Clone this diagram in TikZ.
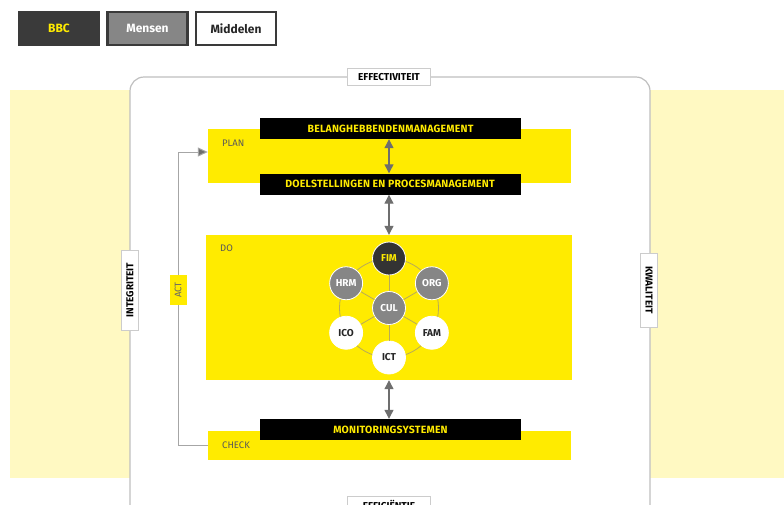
\documentclass[tikz,border=0pt]{standalone}
\usepackage{fontspec}
\setmainfont{Fira Sans}
\usetikzlibrary{arrows.meta, positioning, calc}

\definecolor{bbcyel}{HTML}{FFEB00}
\definecolor{paleyel}{HTML}{FFF9C2}
\definecolor{btndark}{HTML}{3A3A3A}
\definecolor{btngray}{HTML}{868686}
\definecolor{ringcol}{HTML}{B8AA58}
\definecolor{arrcol}{HTML}{6E6E6E}

\tikzset{
  btn/.style={draw=btndark, line width=2.5, minimum width=80, minimum height=33, inner sep=0, font=\fontsize{12}{12}\selectfont\bfseries},
  band/.style={fill=bbcyel, inner sep=0},
  blackbox/.style={fill=black, text=bbcyel, inner sep=0, minimum width=261, minimum height=21, font=\fontsize{10.5}{10.5}\selectfont\bfseries\addfontfeature{LetterSpace=2}},
  sidelbl/.style={draw=black!20, fill=white, line width=1, inner sep=0, minimum height=17, font=\fontsize{10}{10}\selectfont\bfseries},
  steplbl/.style={text=black!65, inner sep=0, anchor=west, font=\fontsize{9.5}{9.5}\selectfont},
  dbl/.style={arrcol, line width=1.2, {Triangle[width=9,length=9]}-{Triangle[width=9,length=9]}},
  hexnode/.style={circle, draw=white, line width=0.8, minimum size=33, inner sep=0, font=\fontsize{10}{10}\selectfont\bfseries},
  cdark/.style={hexnode, fill=black!80, text=bbcyel},
  cgray/.style={hexnode, fill=btngray, text=white},
  cwhite/.style={hexnode, fill=white, text=black!85},
}

\begin{document}
\begin{tikzpicture}[x=1pt, y=-1pt]

\useasboundingbox (0,0) rectangle (784,504);
\clip (0,0) rectangle (784,504);

% buttons
\node[btn, fill=btndark, text=bbcyel] (bbc) at (59,28.5) {BBC};
\node[btn, fill=btngray, text=white, right=6 of bbc] (mensen) {Mensen};
\node[btn, fill=white, text=black!85, right=6 of mensen] (middelen) {Middelen};

% background
\fill[paleyel] (10,90) rectangle (784,478);
\draw[black!25, fill=white, line width=1.2, rounded corners=14] (130,77) rectangle (650,530);

\node[sidelbl, minimum width=83] (eff) at (389,77) {EFFECTIVITEIT};
\node[sidelbl, minimum width=83] (effi) at (389,505) {EFFICIËNTIE};
\node[sidelbl, minimum width=80, rotate=90] (integ) at (130,290) {INTEGRITEIT};
\node[sidelbl, minimum width=74, rotate=-90] (kwal) at (649,290) {KWALITEIT};

% plan / do / check
\node[band, minimum width=363, minimum height=54] (plan) at (389.5,156) {};
\node[band, minimum width=366, minimum height=145] (do) at (389,307.5) {};
\node[band, minimum width=363, minimum height=29] (check) at (389.5,445.5) {};

\node[steplbl] (planlbl) at (222,143) {PLAN};
\node[steplbl] (dolbl) at (220,248) {DO};
\node[steplbl] (checklbl) at (222,445) {CHECK};

\node[blackbox] (belang) at (390.5,128.5) {BELANGHEBBENDENMANAGEMENT};
\node[blackbox] (doel) at (390,184) {DOELSTELLINGEN EN PROCESMANAGEMENT};
\node[blackbox] (monitor) at (390.5,429.5) {MONITORINGSYSTEMEN};

\draw[dbl] (belang.south -| 389,0) -- (doel.north -| 389,0);
\draw[dbl] (doel.south -| 389,0) -- (do.north -| 389,0);
\draw[dbl] (do.south -| 389,0) -- (monitor.north -| 389,0);

% act loop
\coordinate (actbot) at (178,445);
\draw[black!35, line width=1, -{Triangle[width=9,length=10,fill=arrcol]}] (check.west |- actbot) -- (actbot) |- ([yshift=4]plan.west);
\node[band, rotate=90, minimum width=30, minimum height=17, text=black!60, font=\fontsize{9.5}{9.5}\selectfont] (act) at (178,290) {ACT};

% hexagon of circles
\coordinate (hub) at (389,308);
\draw[ringcol, line width=0.8] (hub) circle (49.5);
\node[cgray] (cul) at (hub) {CUL};
\foreach \nm/\ang/\sty/\txt in {fim/-90/cdark/FIM, org/-30/cgray/ORG, fam/30/cwhite/FAM, ict/90/cwhite/ICT, ico/150/cwhite/ICO, hrm/-150/cgray/HRM} {
  \node[\sty] (\nm) at ($(hub)+(\ang:49.5)$) {\txt};
  \draw[ringcol, line width=0.8] (cul) -- (\nm);
}

\end{tikzpicture}
\end{document}
